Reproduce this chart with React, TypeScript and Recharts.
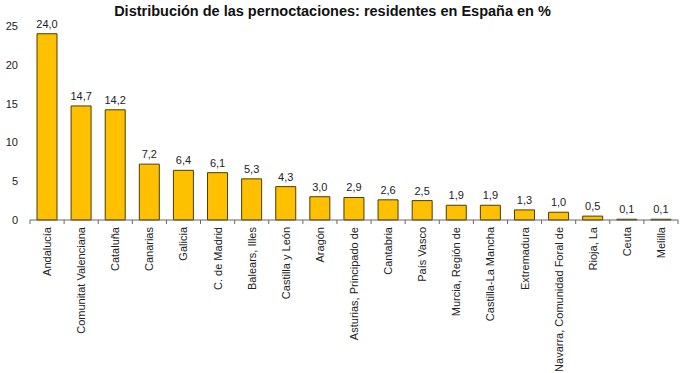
import { BarChart, Bar, XAxis, YAxis, LabelList } from "recharts";

const regions = [
  "Andalucía",
  "Comunitat Valenciana",
  "Cataluña",
  "Canarias",
  "Galicia",
  "C. de Madrid",
  "Balears, Illes",
  "Castilla y León",
  "Aragón",
  "Asturias, Principado de",
  "Cantabria",
  "País Vasco",
  "Murcia, Región de",
  "Castilla-La Mancha",
  "Extremadura",
  "Navarra, Comunidad Foral de",
  "Rioja, La",
  "Ceuta",
  "Melilla",
];

const shares = [
  24.0, 14.7, 14.2, 7.2, 6.4, 6.1, 5.3, 4.3, 3.0, 2.9, 2.6, 2.5, 1.9, 1.9, 1.3,
  1.0, 0.5, 0.1, 0.1,
];

const yTicks = [0, 5, 10, 15, 20, 25];

const data = regions.map((name, i) => ({ name, value: shares[i] }));

const W = 687;
const H = 373;
const LEFT = 30;
const RIGHT = 9;
const HALF_BAND = (W - LEFT - RIGHT) / regions.length / 2;
const FONT = "'Liberation Sans', Arial, sans-serif";

function RegionTick(props: any) {
  const { x, y, payload, index } = props;
  const last = index === regions.length - 1;
  return (
    <g>
      <line x1={x - HALF_BAND} x2={x - HALF_BAND} y1={y} y2={y + 4} stroke="#666" />
      {last && (
        <line x1={x + HALF_BAND} x2={x + HALF_BAND} y1={y} y2={y + 4} stroke="#666" />
      )}
      <text
        transform={`translate(${x + 4}, ${y + 7}) rotate(-90)`}
        textAnchor="end"
        fontSize={11}
        fontFamily={FONT}
        fill="#222"
      >
        {payload.value}
      </text>
    </g>
  );
}

export default function App() {
  return (
    <div
      style={{
        position: "absolute",
        left: 0,
        top: 0,
        width: W,
        height: H,
        background: "#fff",
        fontFamily: FONT,
      }}
    >
      <div
        style={{
          position: "absolute",
          left: 0,
          top: 3,
          width: 665,
          textAlign: "center",
          fontWeight: "bold",
          fontSize: 14.5,
          color: "#111",
        }}
      >
        Distribución de las pernoctaciones: residentes en España en %
      </div>
      <BarChart
        width={W}
        height={H}
        data={data}
        margin={{ top: 26, right: RIGHT, bottom: 0, left: 0 }}
        barCategoryGap={14}
      >
        <XAxis
          dataKey="name"
          interval={0}
          height={153}
          tickSize={0}
          tickMargin={0}
          tickLine={false}
          axisLine={{ stroke: "#666" }}
          tick={<RegionTick />}
        />
        <YAxis
          width={LEFT}
          domain={[0, 25]}
          ticks={yTicks}
          axisLine={false}
          tickLine={false}
          tickMargin={6}
          tick={{ fontSize: 11, fill: "#222", fontFamily: FONT }}
        />
        <Bar
          dataKey="value"
          fill="#FFC000"
          stroke="#4d3d00"
          strokeWidth={1}
          barSize={20}
          isAnimationActive={false}
        >
          <LabelList
            dataKey="value"
            position="top"
            offset={6}
            fontSize={11}
            fontFamily={FONT}
            fill="#222"
            formatter={(v: any) => Number(v).toFixed(1).replace(".", ",")}
          />
        </Bar>
      </BarChart>
    </div>
  );
}
